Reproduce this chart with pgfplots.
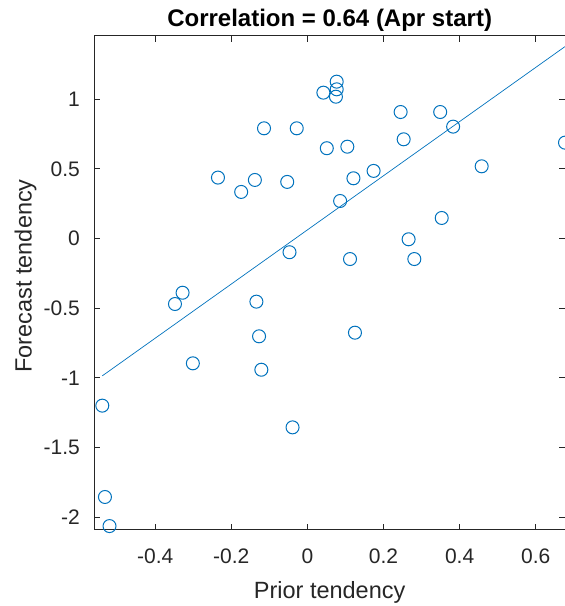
\documentclass[border=0pt]{standalone}
\usepackage{fontspec}
\setmainfont{Liberation Sans}
\usepackage{pgfplots}
\pgfplotsset{compat=1.18}
\definecolor{mblue}{rgb}{0,0.447,0.741}
\definecolor{axgray}{rgb}{0.15,0.15,0.15}

\begin{document}
\begin{tikzpicture}
\begin{axis}[
    at={(0,0)}, anchor=south west,
    scale only axis, width=235.35pt, height=246.85pt,
    xmin=-0.560, xmax=0.677, ymin=-2.091, ymax=1.455,
    axis line style={axgray, line width=0.5pt},
    tick style={axgray, line width=0.5pt},
    tick align=inside, major tick length=2.8pt,
    xtick={-0.4,-0.2,0,0.2,0.4,0.6},
    xticklabels={-0.4,-0.2,0,0.2,0.4,0.6},
    ytick={-2,-1.5,-1,-0.5,0,0.5,1},
    yticklabels={-2,-1.5,-1,-0.5,0,0.5,1},
    ticklabel style={font=\fontsize{10.5}{12}\selectfont, text=axgray},
    xticklabel style={anchor=base, yshift=-16.75pt},
    yticklabel style={anchor=east, inner sep=0pt, xshift=-7pt},
    xlabel={Prior tendency}, ylabel={Forecast tendency},
    label style={font=\fontsize{11.75}{14}\selectfont, text=axgray},
    xlabel style={at={(axis description cs:0.5,-0.1398)}, anchor=base},
    ylabel style={at={(axis description cs:-0.1332,0.514)}, anchor=base},
    every axis title shift=0pt,
    title={Correlation = 0.64 (Apr start)},
    title style={at={(axis description cs:0.5,1.0188)}, anchor=base,
                 font=\bfseries\fontsize{12}{14}\selectfont, text=black},
]
\addplot[only marks, mark=o, mark size=3.25pt, mblue, mark options={line width=0.5pt}]
coordinates {
(0.042,1.048)(-0.114,0.792)(-0.028,0.792)(0.051,0.649)(-0.235,0.438)
(-0.174,0.335)(-0.138,0.421)(-0.053,0.407)(-0.047,-0.098)(0.077,1.127)
(0.077,1.072)(0.075,1.019)(0.245,0.909)(0.349,0.909)(0.383,0.804)
(0.253,0.713)(0.105,0.660)(0.677,0.689)(0.174,0.486)(0.121,0.433)
(0.458,0.519)(0.086,0.270)(0.353,0.148)(0.266,-0.005)(0.112,-0.147)
(0.281,-0.147)(-0.328,-0.389)(-0.348,-0.470)(-0.134,-0.453)(-0.127,-0.702)
(-0.301,-0.896)(-0.121,-0.942)(-0.539,-1.200)(-0.039,-1.356)(-0.532,-1.856)
(-0.520,-2.065)(0.125,-0.676)
};
% least-squares line
\addplot[mblue, line width=0.35pt] coordinates {(-0.539,-0.986)(0.677,1.379)};
\end{axis}
\pgfresetboundingbox
\path[use as bounding box] (-47.15pt,-38.15pt) rectangle (235.1pt,264.85pt);
\end{tikzpicture}
\end{document}
